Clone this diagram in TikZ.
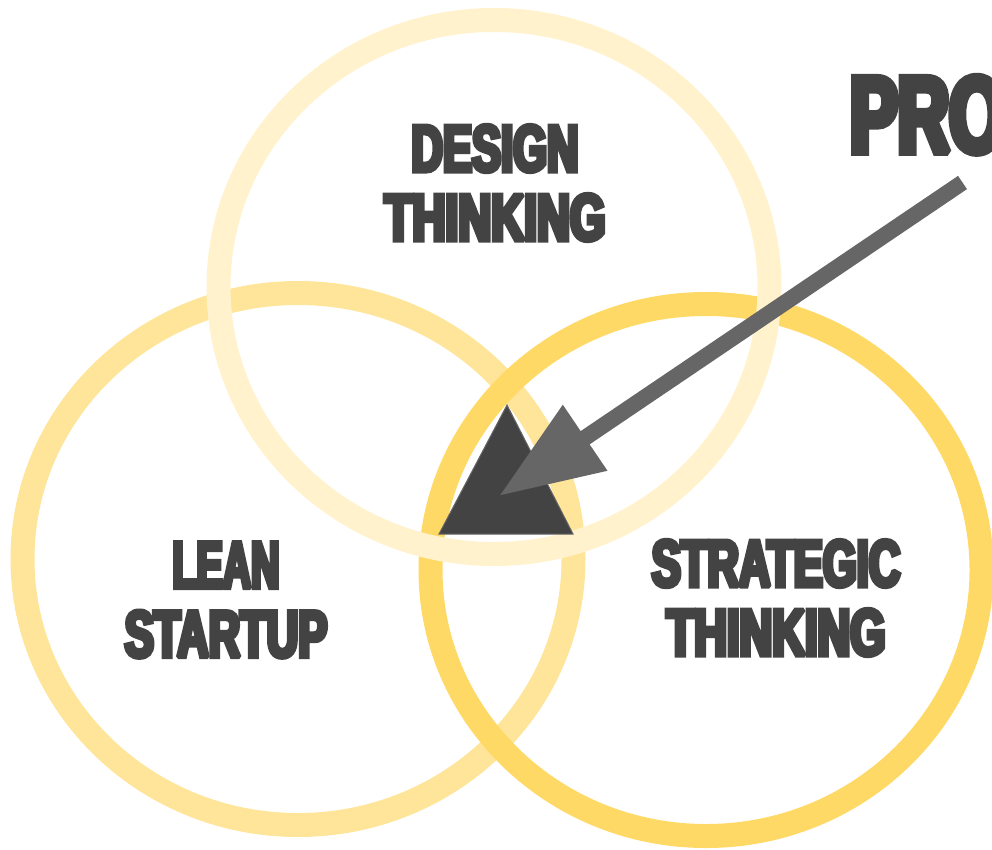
\documentclass[tikz,border=0pt]{standalone}
\usepackage{fontspec}
\usepackage{graphicx}
\usetikzlibrary{arrows.meta}
\newfontfamily\impactfont[FakeBold=7,FakeStretch=0.66]{Liberation Sans Bold}
\definecolor{ringtop}{HTML}{FFF2CC}
\definecolor{ringleft}{HTML}{FFE599}
\definecolor{ringright}{HTML}{FFD966}
\definecolor{ink}{HTML}{434343}
\definecolor{pointer}{HTML}{666666}
\tikzset{
  ring/.style={line width=24pt,draw=#1,fill=none},
  label/.style={text=ink,align=center,inner sep=0pt,font=\impactfont\fontsize{66}{69}\selectfont},
  prolabel/.style={text=ink,anchor=base west,inner sep=0pt,font=\impactfont\fontsize{108}{108}\selectfont},
}
\begin{document}
\begin{tikzpicture}[x=1pt,y=-1pt]
\useasboundingbox (0,0) rectangle (992,849);
\clip (0,0) rectangle (992,849);
\draw[ring=ringleft] (298,559) ellipse [x radius=275.5,y radius=266];
\draw[ring=ringright] (706,570) ellipse [x radius=275.5,y radius=266];
\draw[ring=ringtop] (494,287) ellipse [x radius=275.5,y radius=267];
\begin{scope}[line join=miter,miter limit=1.5]
\node[label] (design) at (495,183) {DESIGN\\\scalebox{1.05}[1]{THINKING}};
\node[label] (lean) at (226,600) {\scalebox{0.9}[1]{LEAN}\\STARTUP};
\node[label] (strategic) at (776,598) {STRATEGIC\\\scalebox{1.04}[1]{THINKING}};
\node[prolabel] (pro) at (850,152) {PRO};
\end{scope}
\draw[fill=ink,draw=pointer,line width=1pt,line join=miter] (507,405) -- (573,534) -- (439,534) -- cycle;
\coordinate (tail) at (962.5,182.5);
\coordinate (tip) at (499,496);
\draw[line width=16pt,draw=pointer,-{Triangle[length=104pt,width=75pt,fill=pointer,sep=0pt]}] (tail) -- (tip);
\end{tikzpicture}
\end{document}
